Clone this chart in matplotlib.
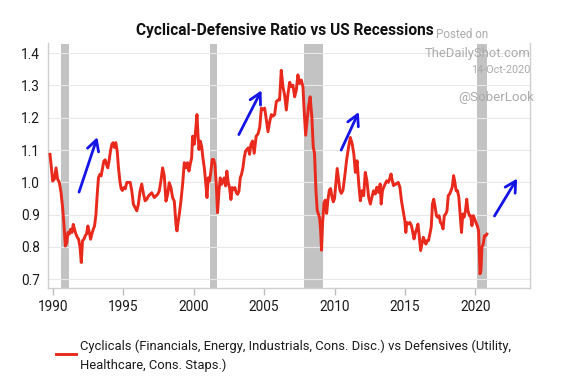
import matplotlib
matplotlib.use("Agg")
import matplotlib.pyplot as plt
from matplotlib.lines import Line2D

plt.rcParams['font.family'] = ['Roboto', 'DejaVu Sans']

# ---- data ----
years = [
    1989.81, 1989.9, 1990.0, 1990.12, 1990.24, 1990.35, 1990.47, 1990.59, 1990.71, 1990.8,
    1990.9, 1991.0, 1991.08, 1991.18, 1991.27, 1991.37, 1991.46, 1991.55, 1991.65, 1991.75,
    1991.84, 1991.94, 1992.03, 1992.12, 1992.22, 1992.31, 1992.4, 1992.5, 1992.6, 1992.69,
    1992.78, 1992.88, 1992.97, 1993.07, 1993.16, 1993.25, 1993.35, 1993.44, 1993.54, 1993.63,
    1993.73, 1993.82, 1993.91, 1994.0, 1994.1, 1994.2, 1994.29, 1994.39, 1994.48, 1994.58,
    1994.67, 1994.77, 1994.86, 1994.95, 1995.05, 1995.15, 1995.26, 1995.38, 1995.5, 1995.61,
    1995.73, 1995.85, 1995.97, 1996.08, 1996.2, 1996.32, 1996.44, 1996.56, 1996.68, 1996.8,
    1996.92, 1997.03, 1997.21, 1997.33, 1997.45, 1997.56, 1997.68, 1997.8, 1997.92, 1998.04,
    1998.16, 1998.27, 1998.39, 1998.51, 1998.63, 1998.75, 1998.82, 1998.91, 1999.0, 1999.1,
    1999.22, 1999.34, 1999.46, 1999.57, 1999.67, 1999.76, 1999.86, 1999.93, 2000.05, 2000.14,
    2000.24, 2000.31, 2000.38, 2000.47, 2000.57, 2000.66, 2000.76, 2000.85, 2000.95, 2001.04,
    2001.13, 2001.23, 2001.32, 2001.42, 2001.51, 2001.61, 2001.7, 2001.8, 2001.89, 2001.99,
    2002.08, 2002.17, 2002.27, 2002.36, 2002.46, 2002.55, 2002.65, 2002.74, 2002.84, 2002.93,
    2003.03, 2003.12, 2003.22, 2003.31, 2003.4, 2003.5, 2003.59, 2003.69, 2003.78, 2003.88,
    2003.97, 2004.07, 2004.18, 2004.3, 2004.44, 2004.57, 2004.69, 2004.81, 2004.92, 2005.04,
    2005.16, 2005.28, 2005.4, 2005.52, 2005.63, 2005.75, 2005.87, 2005.99, 2006.1, 2006.22,
    2006.34, 2006.46, 2006.58, 2006.7, 2006.82, 2006.93, 2007.05, 2007.17, 2007.29, 2007.4,
    2007.52, 2007.64, 2007.76, 2007.83, 2007.95, 2008.06, 2008.15, 2008.27, 2008.39, 2008.49,
    2008.58, 2008.68, 2008.77, 2008.87, 2008.94, 2009.01, 2009.08, 2009.15, 2009.25, 2009.34,
    2009.44, 2009.53, 2009.63, 2009.72, 2009.82, 2009.91, 2010.0, 2010.1, 2010.19, 2010.29,
    2010.38, 2010.48, 2010.6, 2010.72, 2010.86, 2011.0, 2011.12, 2011.25, 2011.37, 2011.48,
    2011.6, 2011.72, 2011.83, 2011.95, 2012.07, 2012.18, 2012.3, 2012.42, 2012.54, 2012.65,
    2012.77, 2012.89, 2013.0, 2013.12, 2013.24, 2013.31, 2013.4, 2013.49, 2013.59, 2013.7,
    2013.82, 2013.94, 2014.01, 2014.1, 2014.19, 2014.29, 2014.4, 2014.52, 2014.64, 2014.75,
    2014.87, 2014.99, 2015.06, 2015.13, 2015.22, 2015.34, 2015.46, 2015.55, 2015.64, 2015.74,
    2015.83, 2015.92, 2016.02, 2016.11, 2016.2, 2016.3, 2016.39, 2016.48, 2016.58, 2016.67,
    2016.76, 2016.86, 2016.95, 2017.04, 2017.14, 2017.23, 2017.32, 2017.42, 2017.51, 2017.6,
    2017.7, 2017.79, 2017.89, 2017.98, 2018.07, 2018.17, 2018.26, 2018.35, 2018.45, 2018.54,
    2018.63, 2018.73, 2018.82, 2018.91, 2019.01, 2019.1, 2019.19, 2019.29, 2019.38, 2019.47,
    2019.57, 2019.66, 2019.75, 2019.85, 2019.94, 2020.03, 2020.13, 2020.22, 2020.27, 2020.32,
    2020.39, 2020.46, 2020.55, 2020.64, 2020.74, 2020.81,
]
ratio = [
    1.087, 1.05, 1.004, 1.01, 1.045, 1.01, 1.0, 0.97, 0.92, 0.87,
    0.803, 0.813, 0.845, 0.84, 0.855, 0.845, 0.87, 0.855, 0.84, 0.83,
    0.824, 0.8, 0.752, 0.82, 0.824, 0.835, 0.84, 0.865, 0.845, 0.824,
    0.84, 0.855, 0.865, 0.9, 0.962, 1.015, 1.025, 1.02, 1.045, 1.066,
    1.07, 1.056, 1.045, 1.066, 1.097, 1.118, 1.123, 1.108, 1.123, 1.097,
    1.045, 1.004, 0.98, 0.975, 0.984, 0.98, 1.0, 1.0, 1.0, 0.975,
    0.932, 0.922, 0.912, 0.932, 0.973, 0.995, 0.965, 0.943, 0.948, 0.958,
    0.963, 0.968, 0.953, 0.958, 0.963, 0.973, 1.004, 1.045, 1.02, 0.942,
    0.963, 0.999, 0.984, 0.953, 0.942, 0.87, 0.85, 0.88, 0.906, 0.942,
    0.994, 1.061, 1.045, 1.061, 1.035, 1.056, 1.076, 1.143, 1.118, 1.159,
    1.21, 1.148, 1.102, 1.128, 1.112, 1.076, 1.045, 1.004, 0.953, 1.014,
    1.004, 1.035, 1.071, 1.071, 1.056, 0.994, 0.906, 0.973, 1.014, 0.994,
    1.004, 1.014, 0.989, 1.035, 0.999, 0.984, 0.947, 0.984, 0.978, 0.984,
    0.968, 0.963, 0.973, 1.014, 1.025, 1.045, 1.076, 1.097, 1.102, 1.107,
    1.087, 1.118, 1.128, 1.09, 1.143, 1.15, 1.17, 1.23, 1.225, 1.23,
    1.195, 1.157, 1.188, 1.21, 1.205, 1.21, 1.25, 1.255, 1.255, 1.347,
    1.296, 1.27, 1.224, 1.275, 1.31, 1.296, 1.301, 1.265, 1.286, 1.333,
    1.306, 1.317, 1.296, 1.234, 1.146, 1.193, 1.234, 1.265, 1.203, 1.11,
    1.09, 0.976, 0.914, 0.9, 0.89, 0.853, 0.79, 0.872, 0.935, 0.945,
    0.904, 0.945, 0.976, 0.981, 0.955, 0.94, 0.95, 0.997, 1.043, 1.007,
    0.976, 0.966, 0.976, 1.017, 1.07, 1.11, 1.139, 1.12, 1.088, 1.031,
    1.067, 0.995, 0.943, 0.974, 0.959, 1.031, 1.005, 0.954, 0.933, 0.954,
    0.974, 0.964, 0.985, 0.969, 0.995, 0.933, 0.974, 0.985, 0.995, 1.005,
    1.0, 1.015, 1.026, 1.005, 0.99, 0.995, 0.995, 1.0, 0.985, 0.943,
    0.912, 0.881, 0.845, 0.876, 0.871, 0.876, 0.866, 0.845, 0.825, 0.845,
    0.856, 0.871, 0.83, 0.789, 0.809, 0.83, 0.82, 0.809, 0.82, 0.82,
    0.84, 0.861, 0.933, 0.948, 0.923, 0.897, 0.892, 0.897, 0.876, 0.871,
    0.856, 0.897, 0.902, 0.912, 0.959, 0.964, 0.974, 0.985, 1.021, 1.0,
    0.974, 0.974, 0.954, 0.902, 0.845, 0.902, 0.892, 0.912, 0.948, 0.912,
    0.897, 0.897, 0.866, 0.897, 0.887, 0.876, 0.866, 0.851, 0.789, 0.717,
    0.727, 0.799, 0.809, 0.835, 0.835, 0.84,
]
recession_start = [1990.58, 2001.13, 2007.82, 2020.10]
recession_end = [1991.13, 2001.68, 2009.19, 2020.82]

arrow_start_x = [1991.87, 2003.21, 2010.47, 2021.35]
arrow_start_y = [0.97, 1.148, 1.10, 0.896]
arrow_end_x = [1993.17, 2004.82, 2011.72, 2022.96]
arrow_end_y = [1.14, 1.285, 1.218, 1.012]

x_ticks = [1990, 1995, 2000, 2005, 2010, 2015, 2020]
y_ticks = [0.7, 0.8, 0.9, 1.0, 1.1, 1.2, 1.3, 1.4]

title = "Cyclical-Defensive Ratio vs US Recessions"
legend_line1 = "Cyclicals (Financials, Energy, Industrials, Cons. Disc.) vs Defensives (Utility,"
legend_line2 = "Healthcare, Cons. Staps.)"

# ---- figure ----
W, H = 564, 389
fig = plt.figure(figsize=(W / 100, H / 100), dpi=100)
ax = fig.add_axes([48.3 / W, 1 - 287.7 / H, (530 - 48.3) / W, (287.7 - 43.5) / H])

ax.set_xlim(1989.69, 2023.87)
ax.set_ylim(0.674, 1.43)

for s, e in zip(recession_start, recession_end):
    ax.axvspan(s, e, color='#c3c3c3', lw=0, zorder=1)

ax.plot(years, ratio, color='#e8291c', lw=2.1, zorder=3, solid_joinstyle='round')

for x0, y0, x1, y1 in zip(arrow_start_x, arrow_start_y, arrow_end_x, arrow_end_y):
    ax.annotate('', xy=(x1, y1), xytext=(x0, y0),
                arrowprops=dict(arrowstyle='->,head_length=0.55,head_width=0.3',
                                color='#1414e6', lw=2.0, mutation_scale=14,
                                shrinkA=0, shrinkB=0),
                zorder=4)

ax.set_xticks(x_ticks)
ax.set_xticklabels([str(v) for v in x_ticks])
ax.set_yticks(y_ticks)
ax.set_yticklabels([f"{v:.1f}" for v in y_ticks])
ax.grid(axis='y', color='#e8e8e8', lw=0.8, zorder=0)
ax.grid(axis='x', visible=False)
for side in ['left', 'bottom', 'right']:
    ax.spines[side].set_color('#cfcfcf')
    ax.spines[side].set_linewidth(1.0)
ax.spines['top'].set_visible(False)
ax.tick_params(axis='x', length=5, width=1, color='#bdbdbd', pad=4, labelsize=9.8, labelcolor='#1a1a1a')
ax.tick_params(axis='y', length=0, pad=6, labelsize=9.8, labelcolor='#1a1a1a')

fig.text(285 / W, 1 - 31 / H, title, ha='center', va='center',
         fontsize=11.2, fontweight='bold', color='#111111')

wm = '#ababab'
fig.text(436 / W, 1 - 35 / H, "Posted on", ha='left', va='center', fontsize=8.4, color=wm)
fig.text(530 / W, 1 - 53 / H, "TheDailyShot.com", ha='right', va='center', fontsize=9.4, color=wm)
fig.text(530 / W, 1 - 70 / H, "14-Oct-2020", ha='right', va='center', fontsize=7.8, color=wm)
fig.text(534 / W, 1 - 98 / H, "@SoberLook", ha='right', va='center', fontsize=9.6, color=wm)

fig.add_artist(Line2D([56 / W, 75.5 / W], [1 - 353.7 / H, 1 - 353.7 / H],
                      color='#e8291c', lw=2.1, transform=fig.transFigure))
fig.text(80 / W, 1 - 346.5 / H, legend_line1, ha='left', va='center', fontsize=9.4, color='#1a1a1a')
fig.text(80 / W, 1 - 365 / H, legend_line2, ha='left', va='center', fontsize=9.4, color='#1a1a1a')

fig.savefig('out.png', dpi=100)
